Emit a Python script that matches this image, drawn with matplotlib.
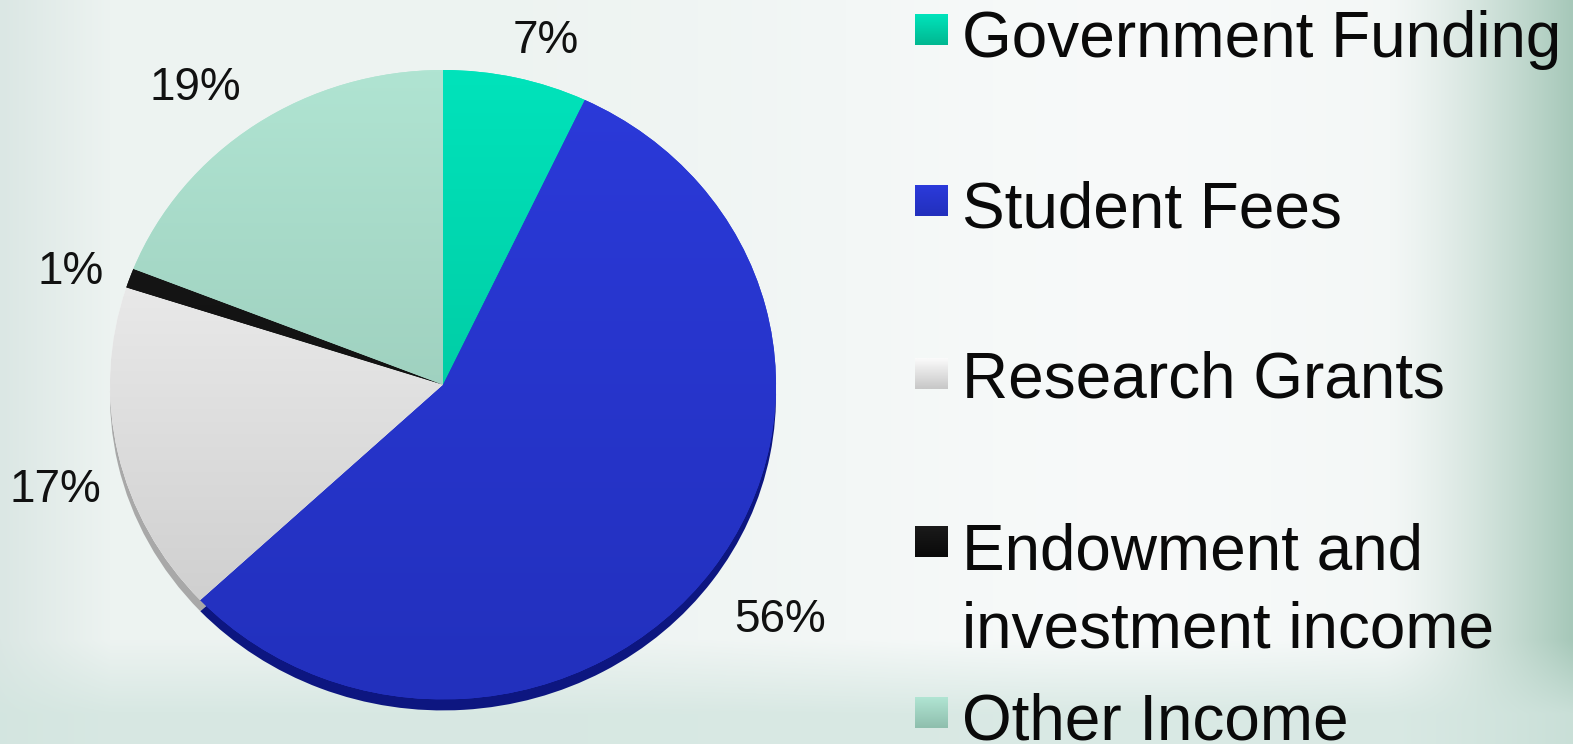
import numpy as np
import matplotlib.pyplot as plt
from matplotlib.colors import to_rgb

plt.rcParams['font.family'] = ['Liberation Sans', 'DejaVu Sans']

categories = ["Government Funding", "Student Fees", "Research Grants",
              "Endowment and\ninvestment income", "Other Income"]
shares = [7, 56, 17, 1, 19]
pct_labels = ["7%", "56%", "17%", "1%", "19%"]

# top / bottom colour of each slice gradient, rim colour
tops = ["#00e3bb", "#2b3ada", "#fafafa", "#1a1a1a", "#b0e4d2"]
bottoms = ["#00b891", "#2230bd", "#c8c8c8", "#0a0a0a", "#8fbfae"]
rims = ["#009070", "#0d1680", "#a8a8a8", "#000000", "#7aa898"]

W, H = 1573, 744
fig = plt.figure(figsize=(W / 100, H / 100), dpi=100)

# background gradient
bg = fig.add_axes([0, 0, 1, 1], zorder=-5)
xx = np.linspace(0, 1, W)[None, :]
yy = np.linspace(0, 1, H)[:, None]
base = np.array(to_rgb("#edf3f1"))
white = np.array(to_rgb("#f9fbfb"))
green = np.array(to_rgb("#a6c8b9"))
left = np.array(to_rgb("#dbe7e4"))
band = np.array(to_rgb("#d2e5df"))
img = np.ones((H, W, 3)) * base
wmix = np.clip(np.exp(-((xx - 0.72) / 0.25) ** 2), 0, 1)[..., None] * np.ones((H, 1, 1))
img = img * (1 - wmix * 0.85) + white * wmix * 0.85
lm = np.clip(1 - xx / 0.07, 0, 1)[..., None] * np.ones((H, 1, 1))
img = img * (1 - lm) + left * lm
rm = (np.clip((xx - 0.88) / 0.12, 0, 1) ** 1.4)[..., None] * np.ones((H, 1, 1))
img = img * (1 - rm) + green * rm
bm = (np.clip((yy - 0.86) / 0.1, 0, 1))[..., None] * np.ones((1, W, 1))
img = img * (1 - bm * 0.8) + band * bm * 0.8
bg.imshow(img, aspect='auto', extent=(0, 1, 0, 1))
bg.axis('off')

# pie
ax = fig.add_axes([110 / W, 1 - 712 / H, 666 / W, 642 / H])
rim_w, _ = ax.pie(shares, startangle=90, counterclock=False, colors=rims,
                  center=(0, -0.035), wedgeprops=dict(linewidth=0))
wedges, _ = ax.pie(shares, startangle=90, counterclock=False, colors=tops,
                   wedgeprops=dict(linewidth=0))
for w in rim_w:
    w.set_zorder(1)
for w, ct, cb in zip(wedges, tops, bottoms):
    w.set_zorder(2)
    t = np.linspace(0, 1, 200)[:, None, None]
    grad = (1 - t) * np.array(to_rgb(ct)) + t * np.array(to_rgb(cb))
    grad = grad * np.ones((1, 2, 1))
    im = ax.imshow(grad, extent=(-1, 1, -1, 1), aspect='auto', zorder=3)
    im.set_clip_path(w)

ax.set_xlim(-1, 1)
ax.set_ylim(-1.04, 1)
ax.set_aspect('auto')
ax.axis('off')

# percentage labels around the pie (distance, angle nudge)
dist = [1.135, 1.258, 1.212, 1.173, 1.202]
nudge = [-3.2, -0.5, 3.4, 2.0, 4.1]
cum = np.cumsum([0] + shares)
for i, lab in enumerate(pct_labels):
    mid = np.deg2rad(90 - (cum[i] + shares[i] / 2) / 100 * 360 + nudge[i])
    ax.text(dist[i] * np.cos(mid), dist[i] * np.sin(mid), lab,
            ha='center', va='center', fontsize=33, color='#111111')

# legend drawn on the right
leg_y = [29, 200, 373, 541, 712]
base_y = [57, 228, 397, 570, 739]
for cat, ct, cb, yc, yb in zip(categories, tops, bottoms, leg_y, base_y):
    sq = fig.add_axes([915 / W, 1 - (yc + 16) / H, 33 / W, 31 / H])
    t = np.linspace(0, 1, 20)[:, None, None]
    g = (1 - t) * np.array(to_rgb(ct)) + t * np.array(to_rgb(cb))
    sq.imshow(g * np.ones((1, 2, 1)), aspect='auto')
    sq.axis('off')
    if "\n" in cat:
        first, second = cat.split("\n")
        fig.text(962 / W, 1 - yb / H, first, fontsize=46, va='baseline', color='#0a0a0a')
        fig.text(962 / W, 1 - (yb + 78) / H, second, fontsize=46, va='baseline', color='#0a0a0a')
    else:
        fig.text(962 / W, 1 - yb / H, cat, fontsize=46, va='baseline', color='#0a0a0a')

fig.savefig("out.png", dpi=100)
